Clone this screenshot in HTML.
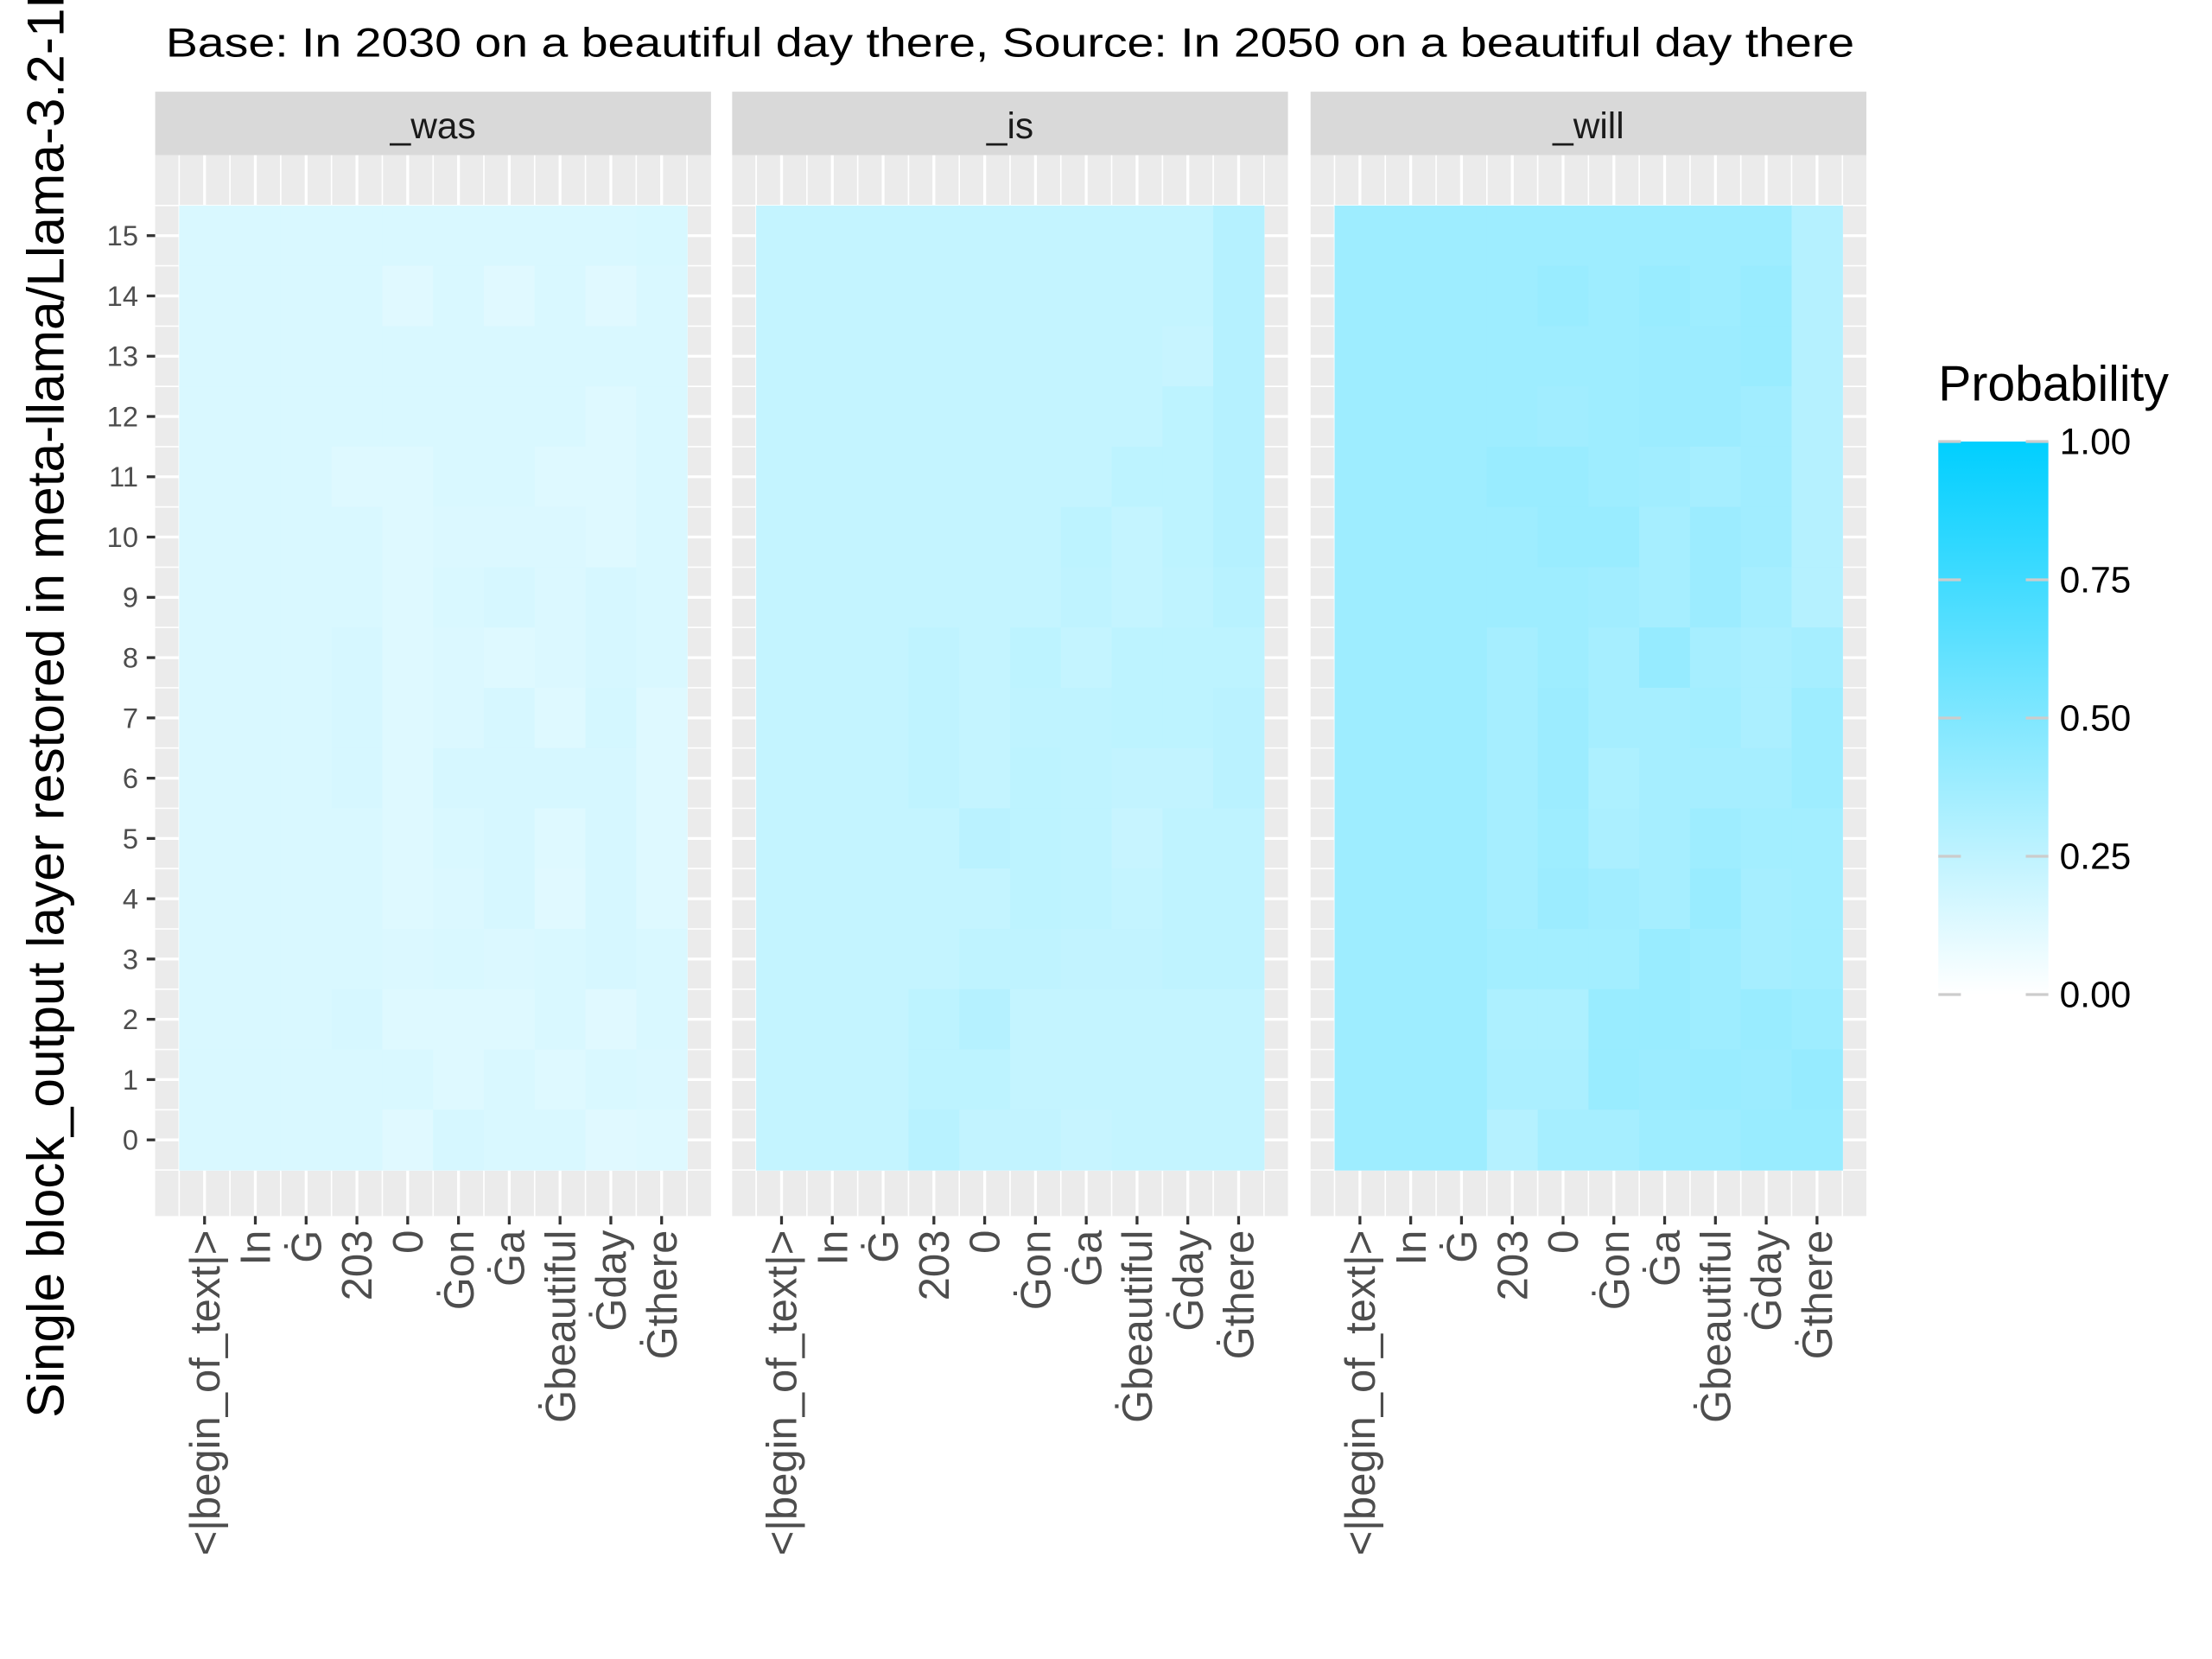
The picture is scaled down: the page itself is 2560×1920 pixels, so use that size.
<!DOCTYPE html>
<html><head><meta charset="utf-8"><style>
html,body{margin:0;padding:0;background:#fff;}
svg{display:block;font-family:"Liberation Sans",Arial,sans-serif;}
</style></head><body>
<svg id="chart" width="2560" height="1920" viewBox="0 0 1568 1176" xmlns="http://www.w3.org/2000/svg">
<defs>
<linearGradient id="lg" x1="0" y1="1" x2="0" y2="0">
<stop offset="0" stop-color="#ffffff"/><stop offset="1" stop-color="#00cfff"/>
</linearGradient>
</defs>
<rect width="1568" height="1176" fill="#fff"/>
<text x="716" y="40" font-size="29" text-anchor="middle" textLength="1197" lengthAdjust="spacingAndGlyphs" fill="#000">Base: In 2030 on a beautiful day there, Source: In 2050 on a beautiful day there</text>
<text transform="translate(45,1005) rotate(-90)" font-size="37" fill="#000">Single block_output layer restored in meta-llama/Llama-3.2-1B</text>
<g id="panels"></g>
<g>
<text x="1374" y="284" font-size="35" fill="#000">Probability</text>
<rect x="1374" y="313" width="78" height="392" fill="url(#lg)"/>
<g id="legticks"></g>
</g>
</svg>
<script>
const NS='http://www.w3.org/2000/svg';
const facets=['_was','_is','_will'];
const tokens=['<|begin_of_text|>','In','Ġ','203','0','Ġon','Ġa','Ġbeautiful','Ġday','Ġthere'];
const layers=[0,1,2,3,4,5,6,7,8,9,10,11,12,13,14,15];
const legendTicks=[0,0.25,0.5,0.75,1];
const legendLabels=['0.00','0.25','0.50','0.75','1.00'];
// rows listed from layer 15 down to layer 0; columns follow tokens
const probWas=[
[.15,.15,.15,.15,.15,.15,.15,.15,.15,.155],
[.15,.15,.15,.15,.12,.15,.12,.15,.12,.15],
[.15,.15,.15,.15,.15,.15,.15,.15,.15,.15],
[.15,.15,.15,.15,.15,.15,.15,.15,.13,.15],
[.15,.15,.15,.13,.13,.15,.15,.13,.13,.15],
[.15,.15,.15,.15,.13,.14,.14,.14,.13,.15],
[.15,.15,.15,.15,.13,.15,.16,.14,.16,.15],
[.15,.15,.15,.16,.13,.14,.13,.14,.16,.15],
[.15,.15,.15,.16,.13,.14,.16,.13,.17,.13],
[.15,.15,.15,.16,.13,.16,.16,.16,.16,.13],
[.15,.15,.15,.15,.13,.15,.16,.13,.16,.13],
[.15,.15,.15,.15,.13,.14,.16,.12,.16,.13],
[.15,.15,.15,.15,.14,.15,.14,.15,.16,.15],
[.15,.15,.15,.16,.13,.13,.13,.15,.12,.15],
[.15,.15,.15,.15,.15,.13,.15,.13,.15,.14],
[.15,.15,.15,.15,.12,.16,.15,.15,.12,.13]];
const probIs=[
[.23,.23,.23,.23,.23,.23,.23,.23,.23,.29],
[.23,.23,.23,.23,.23,.23,.23,.23,.23,.29],
[.23,.23,.23,.23,.23,.23,.23,.23,.22,.29],
[.23,.23,.23,.23,.23,.23,.23,.23,.26,.29],
[.23,.23,.23,.23,.23,.23,.23,.26,.26,.29],
[.23,.23,.23,.23,.23,.23,.26,.23,.26,.29],
[.23,.23,.23,.23,.23,.23,.25,.23,.25,.28],
[.23,.23,.23,.25,.23,.26,.23,.26,.26,.26],
[.23,.23,.23,.25,.23,.25,.25,.26,.26,.27],
[.23,.23,.23,.25,.23,.26,.25,.24,.24,.27],
[.23,.23,.23,.23,.27,.26,.25,.22,.25,.25],
[.23,.23,.23,.23,.23,.26,.25,.23,.25,.25],
[.23,.23,.23,.23,.25,.25,.24,.24,.25,.25],
[.23,.23,.23,.26,.29,.23,.23,.23,.23,.23],
[.23,.23,.23,.26,.26,.23,.23,.23,.23,.23],
[.23,.23,.23,.28,.24,.24,.22,.23,.23,.23]];
const probWill=[
[.38,.38,.38,.38,.38,.38,.38,.38,.38,.29],
[.38,.38,.38,.38,.40,.38,.40,.38,.40,.29],
[.38,.38,.38,.38,.38,.38,.39,.39,.40,.29],
[.38,.38,.38,.38,.37,.38,.39,.39,.37,.29],
[.38,.38,.38,.40,.40,.38,.37,.35,.37,.29],
[.38,.38,.38,.38,.40,.40,.35,.39,.37,.29],
[.38,.38,.38,.38,.38,.37,.35,.39,.35,.29],
[.38,.38,.38,.35,.38,.35,.41,.35,.33,.35],
[.38,.38,.38,.35,.39,.35,.35,.36,.33,.38],
[.38,.38,.38,.35,.39,.32,.35,.35,.35,.38],
[.38,.38,.38,.35,.38,.33,.35,.38,.36,.36],
[.38,.38,.38,.35,.39,.37,.35,.40,.35,.36],
[.38,.38,.38,.36,.36,.36,.40,.38,.35,.36],
[.38,.38,.38,.32,.32,.40,.40,.38,.40,.38],
[.38,.38,.38,.33,.33,.40,.39,.40,.39,.41],
[.38,.38,.38,.29,.35,.35,.38,.38,.40,.40]];
const facetData=[probWas,probIs,probWill];

const panelX=[110,519,929], panelW=394, plotTop=110, plotBot=862;
const colW=36, rowH=42.73;
function xScale(p,i){return panelX[p]+35+i*colW;}
function yScale(l){return 808-l*rowH;}
function legY(v){return 705-v*392;}
function color(v){const r=Math.round(255-255*v),g=Math.round(255-(255-207)*v);return `rgb(${r},${g},255)`;}
function mk(tag,attrs,parent){const e=document.createElementNS(NS,tag);for(const k in attrs)e.setAttribute(k,attrs[k]);parent.appendChild(e);return e;}

const panels=document.getElementById('panels');
facets.forEach((f,p)=>{
  const g=mk('g',{},panels);
  
  
  const strip=mk('rect',{x:panelX[p],y:65,width:panelW,height:45,fill:'#d9d9d9'},g);
  
  
  const st=mk('text',{x:panelX[p]+panelW/2,y:98,'font-size':26,'text-anchor':'middle',fill:'#1a1a1a'},g);
  st.textContent=f;
  
  
  const bg=mk('rect',{x:panelX[p],y:plotTop,width:panelW,height:plotBot-plotTop,fill:'#ebebeb'},g);
  
  
  layers.forEach(l=>{
    mk('line',{x1:panelX[p],x2:panelX[p]+panelW,y1:yScale(l),y2:yScale(l),stroke:'#fff','stroke-width':2},g);
    mk('line',{x1:panelX[p],x2:panelX[p]+panelW,y1:yScale(l)+rowH/2,y2:yScale(l)+rowH/2,stroke:'#fff','stroke-width':1},g);
  });
  mk('line',{x1:panelX[p],x2:panelX[p]+panelW,y1:yScale(15)-rowH/2,y2:yScale(15)-rowH/2,stroke:'#fff','stroke-width':1},g);
  tokens.forEach((t,i)=>{
    mk('line',{x1:xScale(p,i),x2:xScale(p,i),y1:plotTop,y2:plotBot,stroke:'#fff','stroke-width':2},g);
    mk('line',{x1:xScale(p,i)-colW/2,x2:xScale(p,i)-colW/2,y1:plotTop,y2:plotBot,stroke:'#fff','stroke-width':1},g);
  });
  mk('line',{x1:xScale(p,9)+colW/2,x2:xScale(p,9)+colW/2,y1:plotTop,y2:plotBot,stroke:'#fff','stroke-width':1},g);
  const data=facetData[p];
  data.forEach((row,ri)=>{
    const l=15-ri;
    row.forEach((v,ci)=>{
      const r=mk('rect',{x:xScale(p,ci)-colW/2,y:yScale(l)-rowH/2,width:colW+0.4,height:rowH+0.4,fill:color(v)},g);
      
      
    });
  });
  tokens.forEach((t,i)=>{
    mk('line',{x1:xScale(p,i),x2:xScale(p,i),y1:plotBot,y2:plotBot+6,stroke:'#333','stroke-width':2},g);
    const tx=mk('text',{transform:`translate(${xScale(p,i)+10.5},${plotBot+10}) rotate(-90)`,'font-size':30,'text-anchor':'end',fill:'#4d4d4d'},g);
    tx.textContent=t;
    
    
  });
});
const ya=mk('g',{},panels);


layers.forEach(l=>{
  mk('line',{x1:104,x2:110,y1:yScale(l),y2:yScale(l),stroke:'#333','stroke-width':2},ya);
  const t=mk('text',{x:98,y:yScale(l)+7,'font-size':20,'text-anchor':'end',fill:'#4d4d4d'},ya);
  t.textContent=String(l);
  
  
});
const lt=document.getElementById('legticks');
legendTicks.forEach((v,i)=>{
  mk('line',{x1:1374,x2:1390,y1:legY(v),y2:legY(v),stroke:'#cccccc','stroke-width':2},lt);
  mk('line',{x1:1436,x2:1452,y1:legY(v),y2:legY(v),stroke:'#cccccc','stroke-width':2},lt);
  const t=mk('text',{x:1460,y:legY(v)+9,'font-size':26,fill:'#000'},lt);
  t.textContent=legendLabels[i];
  
  
});
</script>
</body></html>
